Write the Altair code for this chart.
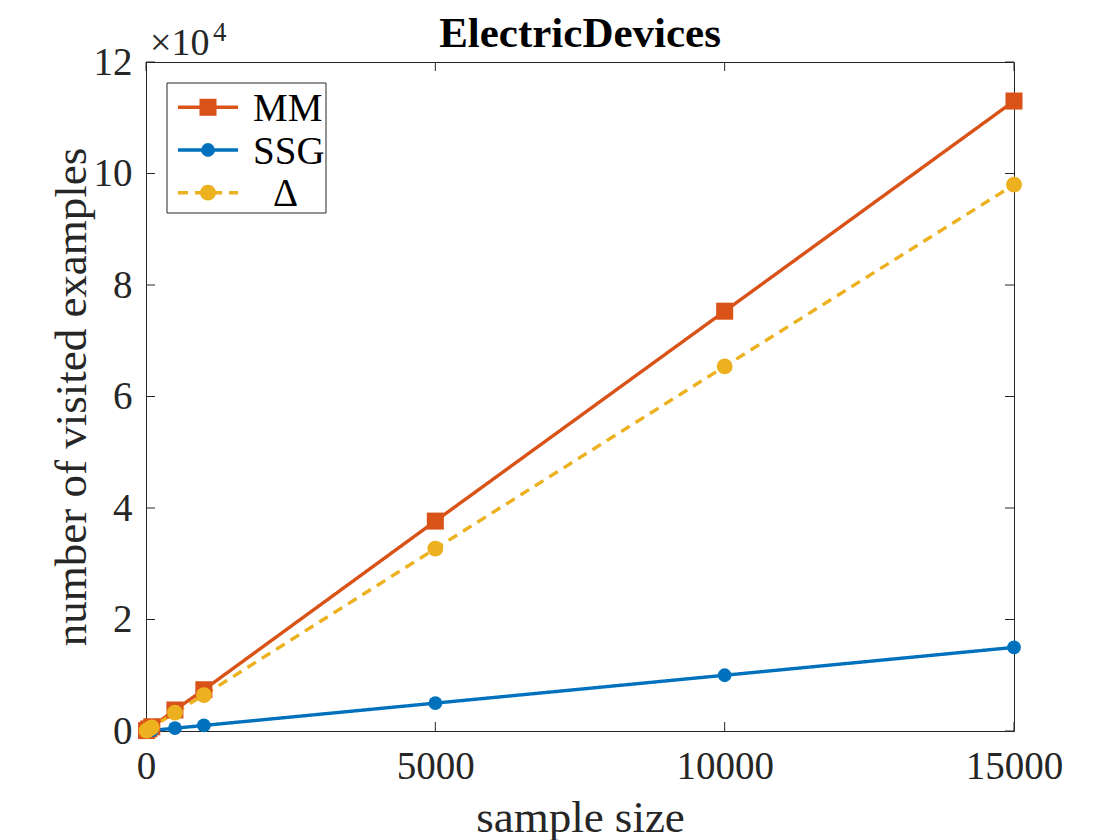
import altair as alt
import pandas as pd

# ---- data ----
sample_size = [10, 50, 100, 500, 1000, 5000, 10000, 15000]
mm_values = [80, 380, 760, 3770, 7400, 37650, 75300, 113000]
ssg_values = [10, 50, 100, 500, 1000, 5000, 10000, 15000]
delta_values = [70, 330, 660, 3300, 6450, 32700, 65400, 98000]

series_names = ["MM", "SSG", "Δ"]
series_colors = ["#D95319", "#0072BD", "#EDB120"]
series_dash = [[1, 0], [1, 0], [10, 7]]
series_shapes = ["square", "circle", "circle"]
series_sizes = [290, 190, 250]

x_ticks = [0, 5000, 10000, 15000]
y_ticks = [0, 20000, 40000, 60000, 80000, 100000, 120000]

chart_title = ["ElectricDevices"]
exp_base = ["×10"]
exp_power = ["4"]

rows = []
for name, vals in zip(series_names, [mm_values, ssg_values, delta_values]):
    for i, (s, v) in enumerate(zip(sample_size, vals)):
        rows.append({"size": s, "visits": v, "series": name, "idx": i})
df = pd.DataFrame(rows)
xt = pd.DataFrame({"tick": x_ticks})
yt = pd.DataFrame({"tick": y_ticks})

W, H = 868, 669
FONT = "Liberation Serif"
INK = "#262626"
LW = 3.4

xs = alt.Scale(domain=[0, 15000], nice=False, zero=False)
ys = alt.Scale(domain=[0, 120000], nice=False, zero=False)

x_axis = alt.Axis(values=x_ticks, format="d", title="sample size", grid=False,
                  ticks=False, tickSize=0, labelPadding=16, labelFontSize=39,
                  titleFontSize=45, titleY=100, titleBaseline="alphabetic",
                  labelFlush=False, labelOverlap=False)
y_axis = alt.Axis(values=y_ticks, labelExpr="datum.value / 10000",
                  title="number of visited examples", grid=False,
                  ticks=False, tickSize=0, labelPadding=14, labelFontSize=39,
                  titleFontSize=45, titleX=-61, titleY=H / 2,
                  titleBaseline="alphabetic", labelFlush=False, labelOverlap=False)


def X(field):
    return alt.X(field, type="quantitative", scale=xs, axis=x_axis)


def Y(field):
    return alt.Y(field, type="quantitative", scale=ys, axis=y_axis)


color = alt.Color("series:N", scale=alt.Scale(domain=series_names, range=series_colors), legend=None)

line_layers = []
point_layers = []
for name, shp, sz, dash in zip(series_names, series_shapes, series_sizes, series_dash):
    base = alt.Chart(df).transform_filter(alt.datum.series == name)
    line_layers.append(
        base.mark_line(strokeWidth=LW, strokeDash=dash).encode(
            x=X("size"), y=Y("visits"), color=color, order="idx:Q")
    )
    point_layers.append(
        base.mark_point(filled=True, opacity=1, shape=shp, size=sz).encode(
            x=X("size"), y=Y("visits"), color=color)
    )

# ---- legend (drawn as marks, MATLAB style: line + marker + label in a box) ----
LEG_X0, LEG_X1, LEG_Y0, LEG_Y1 = 21, 180, 21, 151
ROW_Y0, ROW_DY = 45.3, 42.7
SYM_X0, SYM_X1, SYM_MID = 32, 92, 62
LABEL_X = [107, 107, 127]

legend_df = pd.DataFrame({"series": series_names})
legend_layers = [
    alt.Chart(legend_df).transform_filter(alt.datum.series == series_names[0]).mark_rect(
        fill="white", stroke=INK, strokeWidth=1
    ).encode(x=alt.value(LEG_X0), x2=alt.value(LEG_X1), y=alt.value(LEG_Y0), y2=alt.value(LEG_Y1))
]
for k, (name, shp, sz, dash) in enumerate(zip(series_names, series_shapes, series_sizes, series_dash)):
    row_y = ROW_Y0 + k * ROW_DY
    base = alt.Chart(legend_df).transform_filter(alt.datum.series == name)
    legend_layers.append(
        base.mark_rule(strokeWidth=LW, strokeDash=dash).encode(
            x=alt.value(SYM_X0), x2=alt.value(SYM_X1), y=alt.value(row_y), color=color)
    )
    legend_layers.append(
        base.mark_point(filled=True, opacity=1, shape=shp, size=sz).encode(
            x=alt.value(SYM_MID), y=alt.value(row_y), color=color)
    )
    legend_layers.append(
        base.mark_text(font=FONT, fontSize=39, color="#000000", align="left", baseline="alphabetic").encode(
            text="series:N", x=alt.value(LABEL_X[k]), y=alt.value(row_y + 13.5))
    )

tick_color = INK
ytick_l = alt.Chart(yt).mark_rule(color=tick_color, strokeWidth=1).encode(
    y=Y("tick"), x=alt.value(0), x2=alt.value(9))
ytick_r = alt.Chart(yt).mark_rule(color=tick_color, strokeWidth=1).encode(
    y=Y("tick"), x=alt.value(W - 9), x2=alt.value(W))
xtick_b = alt.Chart(xt).mark_rule(color=tick_color, strokeWidth=1).encode(
    x=X("tick"), y=alt.value(H), y2=alt.value(H - 9))
xtick_t = alt.Chart(xt).mark_rule(color=tick_color, strokeWidth=1).encode(
    x=X("tick"), y=alt.value(0), y2=alt.value(9))

title_layer = alt.Chart(pd.DataFrame({"t": chart_title})).mark_text(
    font=FONT, fontSize=43, fontWeight="bold", color="#000000", align="center", baseline="alphabetic"
).encode(text="t:N", x=alt.value(W / 2), y=alt.value(-15))

exp_layer = alt.Chart(pd.DataFrame({"t": exp_base})).mark_text(
    font=FONT, fontSize=38, color=INK, align="left", baseline="alphabetic"
).encode(text="t:N", x=alt.value(4), y=alt.value(-7))

pow_layer = alt.Chart(pd.DataFrame({"t": exp_power})).mark_text(
    font=FONT, fontSize=27, color=INK, align="left", baseline="alphabetic"
).encode(text="t:N", x=alt.value(67), y=alt.value(-21))

chart = alt.layer(
    ytick_l, ytick_r, xtick_b, xtick_t, *line_layers, *point_layers, *legend_layers,
    title_layer, exp_layer, pow_layer
).properties(
    width=W, height=H,
    autosize=alt.AutoSizeParams(type="none"),
    padding={"left": 138, "top": 54, "right": 98, "bottom": 109},
    background="white",
).configure_view(
    stroke=INK, strokeWidth=1
).configure_axis(
    labelFont=FONT, titleFont=FONT, labelColor=INK, titleColor=INK,
    domainColor=INK, domainWidth=1, titleFontWeight="normal",
)

chart.save("out.html", embed_options={"renderer": "svg", "actions": False})
